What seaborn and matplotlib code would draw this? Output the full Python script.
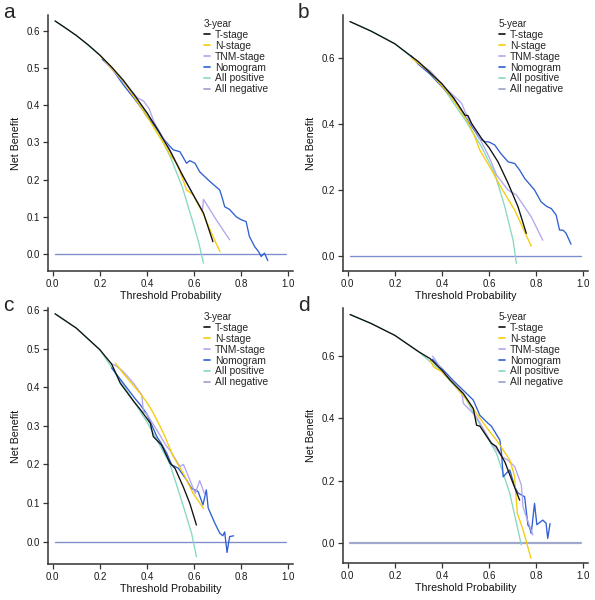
import matplotlib
matplotlib.use("Agg")
import matplotlib.pyplot as plt
from matplotlib.lines import Line2D
import pandas as pd
import seaborn as sns

# Decision curves: [threshold, net benefit]

# panel a (3-year, set 1)
a_tstage = [[0.01, 0.627], [0.05, 0.61], [0.1, 0.588], [0.15, 0.563], [0.2, 0.535], [0.25, 0.503],
            [0.3, 0.467], [0.35, 0.425], [0.372, 0.405], [0.4, 0.38], [0.45, 0.33], [0.5, 0.275],
            [0.55, 0.213], [0.6, 0.155], [0.64, 0.11], [0.68, 0.033]]
a_nstage = [[0.2, 0.535], [0.3, 0.465], [0.38, 0.39], [0.41, 0.36], [0.435, 0.334], [0.47, 0.298],
            [0.5, 0.265], [0.526, 0.244], [0.55, 0.205], [0.568, 0.172], [0.596, 0.159],
            [0.638, 0.109], [0.674, 0.056], [0.71, 0.006]]
a_tnm = [[0.22, 0.52], [0.3, 0.462], [0.36, 0.42], [0.385, 0.412], [0.41, 0.39], [0.43, 0.355],
         [0.47, 0.31], [0.5, 0.277], [0.55, 0.212], [0.6, 0.155], [0.635, 0.115], [0.64, 0.147],
         [0.695, 0.091], [0.751, 0.038]]
a_nomo = [[0.21, 0.524], [0.25, 0.5], [0.3, 0.455], [0.35, 0.415], [0.38, 0.39], [0.4, 0.37],
          [0.414, 0.36], [0.45, 0.33], [0.47, 0.31], [0.498, 0.289], [0.512, 0.28], [0.54, 0.275],
          [0.568, 0.244], [0.582, 0.251], [0.604, 0.244], [0.624, 0.221], [0.667, 0.195],
          [0.709, 0.172], [0.72, 0.15], [0.73, 0.127], [0.75, 0.12], [0.779, 0.1], [0.8, 0.092],
          [0.821, 0.087], [0.835, 0.047], [0.857, 0.02], [0.875, 0.005], [0.885, -0.007],
          [0.899, 0.002], [0.913, -0.018]]
a_allpos = [[0.01, 0.627], [0.1, 0.588], [0.2, 0.535], [0.3, 0.467], [0.4, 0.378], [0.45, 0.325],
            [0.5, 0.26], [0.55, 0.18], [0.6, 0.075], [0.62, 0.03], [0.64, -0.025]]

# panel b (5-year, set 1)
b_tstage = [[0.01, 0.709], [0.1, 0.68], [0.2, 0.642], [0.3, 0.588], [0.4, 0.521], [0.45, 0.478],
            [0.498, 0.426], [0.51, 0.425], [0.526, 0.401], [0.568, 0.356], [0.6, 0.328],
            [0.638, 0.285], [0.681, 0.22], [0.723, 0.149], [0.758, 0.069]]
b_nstage = [[0.27, 0.6], [0.35, 0.555], [0.43, 0.49], [0.47, 0.45], [0.51, 0.406], [0.54, 0.36],
            [0.561, 0.32], [0.603, 0.27], [0.653, 0.205], [0.709, 0.139], [0.779, 0.03]]
b_tnm = [[0.27, 0.6], [0.35, 0.56], [0.42, 0.505], [0.45, 0.485], [0.484, 0.462], [0.498, 0.437],
         [0.52, 0.405], [0.55, 0.37], [0.6, 0.3], [0.632, 0.245], [0.68, 0.2], [0.716, 0.185],
         [0.779, 0.119], [0.828, 0.048]]
b_nomo = [[0.27, 0.605], [0.3, 0.58], [0.35, 0.55], [0.4, 0.512], [0.43, 0.49], [0.45, 0.475],
          [0.48, 0.445], [0.5, 0.42], [0.54, 0.378], [0.56, 0.355], [0.582, 0.346], [0.6, 0.345],
          [0.624, 0.336], [0.65, 0.31], [0.681, 0.285], [0.709, 0.28], [0.73, 0.26],
          [0.751, 0.235], [0.793, 0.2], [0.821, 0.164], [0.845, 0.15], [0.864, 0.144],
          [0.885, 0.124], [0.899, 0.079], [0.915, 0.078], [0.927, 0.069], [0.948, 0.036]]
b_allpos = [[0.01, 0.709], [0.1, 0.68], [0.2, 0.642], [0.3, 0.585], [0.4, 0.515], [0.5, 0.41],
            [0.568, 0.331], [0.624, 0.25], [0.667, 0.149], [0.702, 0.048], [0.716, -0.022]]

# panel c (3-year, set 2)
c_tstage = [[0.01, 0.59], [0.1, 0.553], [0.2, 0.497], [0.25, 0.46], [0.287, 0.41], [0.344, 0.363],
            [0.372, 0.342], [0.414, 0.307], [0.427, 0.272], [0.462, 0.25], [0.498, 0.203],
            [0.519, 0.19], [0.554, 0.142], [0.582, 0.099], [0.61, 0.043]]
c_nstage = [[0.266, 0.462], [0.3, 0.435], [0.371, 0.384], [0.4, 0.36], [0.427, 0.333],
            [0.47, 0.281], [0.512, 0.22], [0.554, 0.177], [0.596, 0.125], [0.641, 0.085]]
c_tnm = [[0.25, 0.46], [0.27, 0.455], [0.3, 0.44], [0.342, 0.411], [0.378, 0.38], [0.385, 0.337],
         [0.4, 0.33], [0.442, 0.289], [0.484, 0.246], [0.5, 0.235], [0.54, 0.194], [0.555, 0.2],
         [0.582, 0.16], [0.605, 0.125], [0.624, 0.158], [0.646, 0.121]]
c_nomo = [[0.25, 0.45], [0.3, 0.41], [0.35, 0.37], [0.371, 0.355], [0.4, 0.33], [0.442, 0.272],
          [0.46, 0.255], [0.484, 0.229], [0.505, 0.199], [0.533, 0.19], [0.568, 0.16],
          [0.589, 0.138], [0.617, 0.13], [0.638, 0.095], [0.652, 0.134], [0.66, 0.087],
          [0.688, 0.048], [0.709, 0.022], [0.722, 0.015], [0.73, 0.025], [0.74, -0.028],
          [0.751, 0.013], [0.768, 0.015]]
c_allpos = [[0.01, 0.59], [0.1, 0.553], [0.2, 0.497], [0.3, 0.405], [0.4, 0.31], [0.45, 0.255],
            [0.498, 0.2], [0.54, 0.12], [0.568, 0.065], [0.59, 0.02], [0.61, -0.039]]

# panel d (5-year, set 2)
d_tstage = [[0.01, 0.734], [0.1, 0.705], [0.2, 0.667], [0.3, 0.615], [0.35, 0.592], [0.4, 0.555],
            [0.435, 0.523], [0.491, 0.48], [0.533, 0.432], [0.547, 0.378], [0.561, 0.375],
            [0.61, 0.32], [0.63, 0.31], [0.667, 0.26], [0.702, 0.191], [0.73, 0.137]]
d_nstage = [[0.35, 0.587], [0.365, 0.565], [0.4, 0.55], [0.45, 0.51], [0.5, 0.465], [0.533, 0.43],
            [0.6, 0.36], [0.632, 0.33], [0.688, 0.266], [0.708, 0.215], [0.72, 0.095],
            [0.745, 0.04], [0.778, -0.05]]
d_tnm = [[0.36, 0.6], [0.37, 0.59], [0.4, 0.555], [0.45, 0.51], [0.484, 0.485], [0.491, 0.448],
         [0.547, 0.405], [0.603, 0.33], [0.653, 0.277], [0.68, 0.266], [0.709, 0.245],
         [0.737, 0.186], [0.744, 0.117], [0.758, 0.084], [0.786, 0.025]]
d_nomo = [[0.36, 0.59], [0.4, 0.56], [0.45, 0.52], [0.491, 0.49], [0.533, 0.459], [0.561, 0.41],
          [0.596, 0.384], [0.61, 0.375], [0.646, 0.33], [0.653, 0.287], [0.66, 0.212],
          [0.675, 0.225], [0.688, 0.234], [0.709, 0.18], [0.723, 0.16], [0.751, 0.148],
          [0.765, 0.057], [0.772, 0.05], [0.779, 0.03], [0.793, 0.127], [0.803, 0.058],
          [0.828, 0.073], [0.842, 0.063], [0.849, 0.014], [0.859, 0.062]]
d_allpos = [[0.01, 0.734], [0.1, 0.705], [0.2, 0.667], [0.3, 0.615], [0.4, 0.55], [0.5, 0.465],
            [0.561, 0.38], [0.632, 0.287], [0.688, 0.159], [0.737, -0.007]]

all_negative = [[0.01, 0.0], [0.99, 0.0]]

model_names = ["T-stage", "N-stage", "TNM-stage", "Nomogram", "All positive", "All negative"]
colors = {"T-stage": "#111111", "N-stage": "#F7CB0A", "TNM-stage": "#B2A6EE",
          "Nomogram": "#2F5FD3", "All positive": "#86D8C3", "All negative": "#7C8DCC"}
draw_order = ["All negative", "All positive", "Nomogram", "TNM-stage", "N-stage", "T-stage"]

panels = [
    ("a", "3-year", [a_tstage, a_nstage, a_tnm, a_nomo, a_allpos, all_negative],
     (-0.046, 0.643), [0, 0.1, 0.2, 0.3, 0.4, 0.5, 0.6]),
    ("b", "5-year", [b_tstage, b_nstage, b_tnm, b_nomo, b_allpos, all_negative],
     (-0.045, 0.729), [0, 0.2, 0.4, 0.6]),
    ("c", "3-year", [c_tstage, c_nstage, c_tnm, c_nomo, c_allpos, all_negative],
     (-0.058, 0.605), [0, 0.1, 0.2, 0.3, 0.4, 0.5, 0.6]),
    ("d", "5-year", [d_tstage, d_nstage, d_tnm, d_nomo, d_allpos, all_negative],
     (-0.065, 0.755), [0, 0.2, 0.4, 0.6]),
]

sns.set_theme(style="ticks")
plt.rcParams["font.family"] = ["Liberation Sans", "DejaVu Sans"]

fig = plt.figure(figsize=(5.95, 6.0), dpi=100)
W, H = 595, 600
# axes boxes in pixels: left, top, right, bottom
boxes = [(48, 15, 293, 271), (343, 15, 588, 271), (48, 308, 293, 564), (343, 308, 588, 563)]
letter_pos = [(3, 3), (298, 3), (3, 296), (298, 296)]

for (letter, title, curves, ylim, yticks), box, lpos in zip(panels, boxes, letter_pos):
    l, t, r, b = box
    ax = fig.add_axes([l / W, 1 - b / H, (r - l) / W, (b - t) / H])
    rows = []
    for name, pts in zip(model_names, curves):
        for x, y in pts:
            rows.append({"model": name, "threshold": x, "net_benefit": y})
    df = pd.DataFrame(rows)

    for name in draw_order:
        sub = df[df["model"] == name]
        col = colors[name]
        lw = 0.95
        if name == "All negative" and letter == "d":
            col = "#A0A9CB"
            lw = 1.6
        sns.lineplot(data=sub, x="threshold", y="net_benefit", color=col, linewidth=lw,
                     estimator=None, sort=False, ax=ax, legend=False)

    ax.set_xlim(-0.02, 1.02)
    ax.set_ylim(*ylim)
    ax.set_xticks([0, 0.2, 0.4, 0.6, 0.8, 1.0])
    ax.set_xticklabels(["0.0", "0.2", "0.4", "0.6", "0.8", "1.0"])
    ax.set_yticks(yticks)
    ax.set_yticklabels([f"{v:.1f}" for v in yticks])
    ax.tick_params(axis="both", direction="out", length=3.5, width=0.9, color="#333333",
                   labelsize=7, labelcolor="#1a1a1a", pad=2)
    sns.despine(ax=ax)
    for side in ["left", "bottom"]:
        ax.spines[side].set_color("#333333")
        ax.spines[side].set_linewidth(1.1)
    ax.set_xlabel("Threshold Probability", fontsize=7.7, labelpad=1.5, color="#111111")
    ax.set_ylabel("Net Benefit", fontsize=7.7, labelpad=4, color="#111111")

    handles = []
    for name in model_names:
        col = colors[name]
        if name == "All negative":
            col = "#99A1C8"
        handles.append(Line2D([0], [0], color=col, linewidth=1.2))
    leg = ax.legend(handles, model_names, title=title, loc="upper left",
                    bbox_to_anchor=(0.635, 0.985), frameon=False, fontsize=7.4,
                    title_fontsize=7.2, handlelength=0.6, handletextpad=0.5,
                    labelspacing=0.09, borderpad=0, borderaxespad=0, alignment="left")

    fig.text(lpos[0] / W, 1 - lpos[1] / H, letter, fontsize=15, ha="left", va="top")

fig.savefig("out.png", dpi=100)
